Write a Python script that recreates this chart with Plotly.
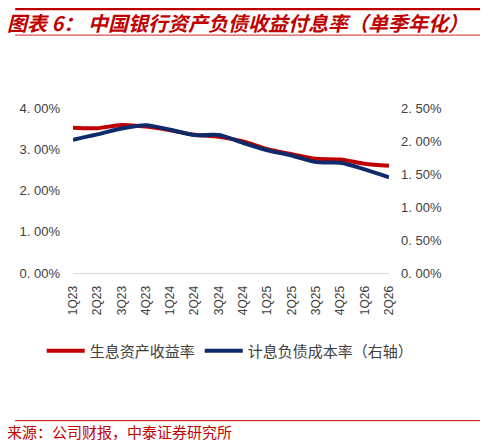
import plotly.graph_objects as go

quarters = ["1Q23", "2Q23", "3Q23", "4Q23", "1Q24", "2Q24", "3Q24",
            "4Q24", "1Q25", "2Q25", "3Q25", "4Q25", "1Q26", "2Q26"]
asset_yield = [3.52, 3.51, 3.59, 3.55, 3.46, 3.35, 3.30,
               3.19, 3.00, 2.88, 2.77, 2.75, 2.65, 2.60]
liability_cost = [2.02, 2.10, 2.19, 2.24, 2.17, 2.09, 2.09,
                  1.97, 1.86, 1.78, 1.68, 1.67, 1.57, 1.45]

left_ticks = [0, 1, 2, 3, 4]
left_labels = ["0. 00%", "1. 00%", "2. 00%", "3. 00%", "4. 00%"]
right_ticks = [0, 0.5, 1.0, 1.5, 2.0, 2.5]
right_labels = ["0. 00%", "0. 50%", "1. 00%", "1. 50%", "2. 00%", "2. 50%"]

RED = "#c00000"
BLUE = "#0d2b6b"
CJK = "Noto Sans CJK SC"
TICK_FONT = dict(family="Liberation Sans, Arial", size=13, color="#404040")

fig = go.Figure()
fig.add_trace(go.Scatter(
    x=quarters, y=asset_yield, name="生息资产收益率", mode="lines",
    line=dict(color=RED, width=4, shape="spline", smoothing=0.8),
))
fig.add_trace(go.Scatter(
    x=quarters, y=liability_cost, name="计息负债成本率（右轴）", mode="lines",
    yaxis="y2",
    line=dict(color=BLUE, width=4, shape="spline", smoothing=0.8),
))

# page body adds an 8px margin, so the figure is 8px smaller each way
fig.update_layout(
    width=480,
    height=436,
    margin=dict(l=59, r=99, t=100, b=171),
    paper_bgcolor="white",
    plot_bgcolor="white",
    xaxis=dict(
        type="category", tickangle=-90, showgrid=False,
        showline=True, linecolor="#d9d9d9", linewidth=1,
        ticks="", tickfont=dict(family="Liberation Sans, Arial", size=12, color="#404040"),
        ticklabelstandoff=7,
    ),
    yaxis=dict(
        range=[0, 4], tickvals=left_ticks, ticktext=left_labels,
        showgrid=False, zeroline=False, tickfont=TICK_FONT,
        ticklabelstandoff=12,
    ),
    yaxis2=dict(
        range=[0, 2.5], tickvals=right_ticks, ticktext=right_labels,
        overlaying="y", side="right", showgrid=False, zeroline=False,
        tickfont=TICK_FONT, ticklabelstandoff=11,
    ),
    legend=dict(
        orientation="h", x=-0.099, y=-0.473, xanchor="left", yanchor="middle",
        font=dict(family=CJK, size=15, color="#404040"),
        bgcolor="rgba(0,0,0,0)", itemwidth=38,
    ),
    showlegend=True,
)

# title, rules and source note
fig.add_annotation(
    text="<b><i>图表 6： 中国银行资产负债收益付息率（单季年化）</i></b>",
    xref="paper", yref="paper", x=-0.215, y=1.521, xanchor="left", yanchor="middle",
    showarrow=False, font=dict(family=CJK, size=20, color=RED),
)
fig.add_shape(type="line", xref="paper", yref="paper",
              x0=-0.183, x1=1.292, y0=1.6, y1=1.6,
              line=dict(color=RED, width=2.5))
fig.add_shape(type="line", xref="paper", yref="paper",
              x0=-0.183, x1=1.292, y0=1.442, y1=1.442,
              line=dict(color="#d9534f", width=1.2))
fig.add_shape(type="line", xref="paper", yref="paper",
              x0=-0.183, x1=1.292, y0=-0.895, y1=-0.895,
              line=dict(color=RED, width=1))
fig.add_annotation(
    text="来源：公司财报，中泰证券研究所",
    xref="paper", yref="paper", x=-0.215, y=-0.962, xanchor="left", yanchor="middle",
    showarrow=False, font=dict(family=CJK, size=15, color=RED),
)

fig.write_html("out.html")
